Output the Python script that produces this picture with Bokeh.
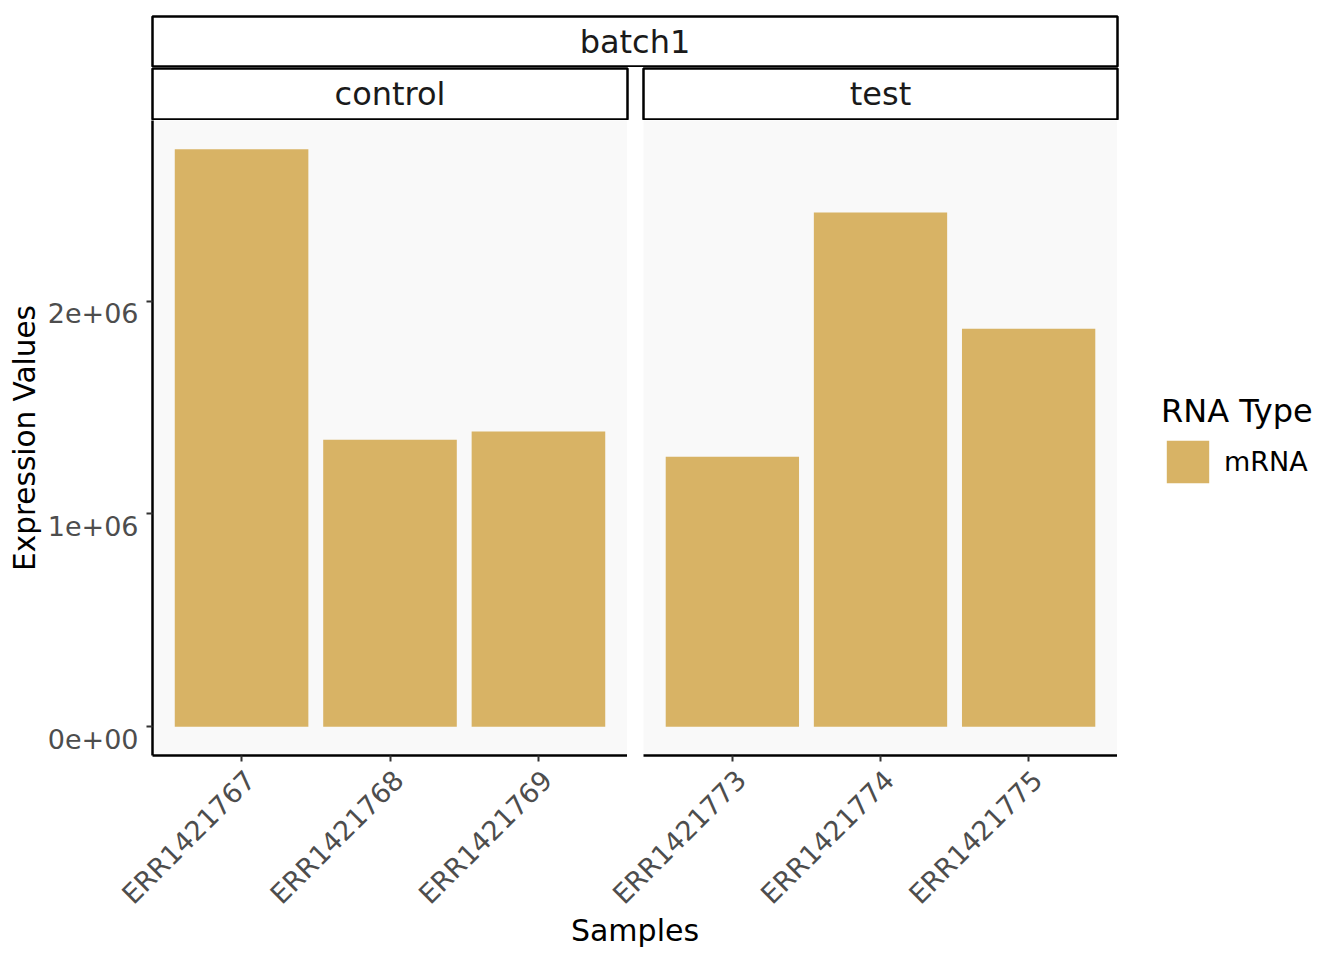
import math
from bokeh.plotting import figure
from bokeh.models import (FactorRange, Range1d, Legend, LegendItem, ColumnDataSource, FixedTicker,
                          CustomJSTickFormatter)
from bokeh.layouts import column, row
from bokeh.embed import file_html
from bokeh.resources import INLINE
from bokeh.core.properties import value

# ---- data ----
batch_label = "batch1"
group_labels = ["control", "test"]
control_samples = ["ERR1421767", "ERR1421768", "ERR1421769"]
control_values = [2.714e6, 1.349e6, 1.387e6]
test_samples = ["ERR1421773", "ERR1421774", "ERR1421775"]
test_values = [1.269e6, 2.417e6, 1.871e6]
rna_type = "mRNA"
y_ticks = [0, 1000000, 2000000]
y_tick_labels = ["0e+00", "1e+06", "2e+06"]
x_title = "Samples"
y_title = "Expression Values"
legend_title = "RNA Type"

# ---- style ----
FONT = "DejaVu Sans"
BAR = "#D8B365"
PANEL_BG = "#F9F9F9"
TICK_TXT = "#4D4D4D"
STRIP_TXT = "#1A1A1A"
TICK_FS = "27px"

ymax = max(control_values + test_values)
ylo, yhi = -0.05 * ymax, 1.05 * ymax


def strip(label, fw, fh, left, top, bottom, right):
    p = figure(frame_width=fw, frame_height=fh, x_range=Range1d(0, 1), y_range=Range1d(0, 1),
               x_axis_type=None, y_axis_type=None, toolbar_location=None, output_backend="svg",
               min_border_left=left, min_border_top=top, min_border_bottom=bottom, min_border_right=right,
               background_fill_color="white", border_fill_color="white",
               outline_line_color="black", outline_line_width=2.5)
    p.grid.visible = False
    p.text(x=[0.5], y=[0.5], text=[label], text_align="center", text_baseline="middle",
           text_font=value(FONT), text_font_size="32px", text_color=STRIP_TXT)
    return p


def panel(samples, vals, left, show_y):
    src = ColumnDataSource(dict(x=samples, top=vals))
    kw = {} if show_y else {"y_axis_location": None}
    p = figure(x_range=FactorRange(factors=samples, range_padding=0.1, range_padding_units="absolute"),
               y_range=Range1d(ylo, yhi), frame_width=475 if show_y else 474, frame_height=635,
               min_border_left=left, min_border_right=0, min_border_top=0, min_border_bottom=200,
               toolbar_location=None, output_backend="svg",
               background_fill_color=PANEL_BG, border_fill_color="white", outline_line_color=None, **kw)
    r = p.vbar(x="x", top="top", bottom=0, width=0.9, source=src, fill_color=BAR, line_color=None)
    p.xgrid.visible = False
    p.ygrid.visible = False
    ax = p.xaxis[0]
    ax.axis_line_color = "black"
    ax.axis_line_width = 2.5
    ax.major_tick_line_color = "#333333"
    ax.major_tick_line_width = 2
    ax.major_tick_out = 6
    ax.major_tick_in = 0
    ax.minor_tick_line_color = None
    ax.major_label_orientation = math.pi / 4
    ax.formatter = CustomJSTickFormatter(code="return '\\n' + tick;")
    ax.major_label_text_line_height = 0.8
    ax.major_label_text_font = FONT
    ax.major_label_text_font_size = TICK_FS
    ax.major_label_text_color = TICK_TXT
    ax.major_label_standoff = 5
    if show_y:
        ay = p.yaxis[0]
        ay.ticker = FixedTicker(ticks=y_ticks)
        ay.major_label_overrides = {t: "\n" + s for t, s in zip(y_ticks, y_tick_labels)}
        ay.axis_line_color = "black"
        ay.axis_line_width = 2.5
        ay.major_tick_line_color = "#333333"
        ay.major_tick_line_width = 2
        ay.major_tick_out = 6
        ay.major_tick_in = 0
        ay.minor_tick_line_color = None
        ay.major_label_text_font = FONT
        ay.major_label_text_font_size = TICK_FS
        ay.major_label_text_color = TICK_TXT
        ay.major_label_text_line_height = 0.8
        ay.major_label_standoff = 8
        ay.axis_label = y_title
        ay.axis_label_text_font = FONT
        ay.axis_label_text_font_size = "29.5px"
        ay.axis_label_text_font_style = "normal"
        ay.axis_label_text_color = "black"
        ay.axis_label_standoff = 3
    return p, r


batch = strip(batch_label, 965, 50, 152, 16, 1, 2)
s_ctrl = strip(group_labels[0], 475, 51, 152, 1, 1, 2)
s_test = strip(group_labels[1], 474, 51, 14, 1, 1, 2)

OVERLAP = 40
p_ctrl, r_ctrl = panel(control_samples, control_values, 152, True)
p_test, r_test = panel(test_samples, test_values, 16 + OVERLAP, False)
p_test.border_fill_alpha = 0
p_test.styles = {"margin-left": f"-{OVERLAP}px"}

# legend panel: a proxy renderer that draws nothing, used only for the key
p_leg = figure(frame_width=175, frame_height=635, x_range=Range1d(0, 1), y_range=Range1d(0, 1),
               x_axis_type=None, y_axis_type=None, toolbar_location=None, output_backend="svg",
               min_border_left=44, min_border_right=0, min_border_top=0, min_border_bottom=200,
               outline_line_color=None, background_fill_color="white", border_fill_color="white")
p_leg.grid.visible = False
r_key = p_leg.vbar(x=[float("nan")], top=[float("nan")], width=0.9, fill_color=BAR, line_color=None)

legend = Legend(items=[LegendItem(label=rna_type, renderers=[r_key])], title=legend_title,
                location=(0, 267), orientation="vertical")
legend.title_text_font = FONT
legend.title_text_font_size = "32px"
legend.title_text_font_style = "normal"
legend.title_text_color = "black"
legend.title_standoff = 5
legend.label_text_font = FONT
legend.label_text_font_size = TICK_FS
legend.label_text_color = "black"
legend.glyph_width = 53
legend.glyph_height = 53
legend.label_standoff = 10
legend.padding = 0
legend.margin = 0
legend.spacing = 0
legend.border_line_color = None
legend.background_fill_alpha = 0
p_leg.add_layout(legend)

xt = figure(frame_width=965, frame_height=40, x_range=Range1d(0, 1), y_range=Range1d(0, 1),
            x_axis_type=None, y_axis_type=None, toolbar_location=None, output_backend="svg",
            min_border_left=152, min_border_top=0, min_border_bottom=0, min_border_right=0,
            outline_line_color=None, background_fill_alpha=0, border_fill_alpha=0)
xt.grid.visible = False
xt.text(x=[0.5], y=[0.5], text=[x_title], text_align="center", text_baseline="middle",
        text_font=value(FONT), text_font_size="30px", text_color="black")
xt.styles = {"margin-top": "-45px"}

layout = column(batch, row(s_ctrl, s_test), row(p_ctrl, p_test, p_leg), xt)

open("out.html", "w").write(file_html(layout, INLINE))
